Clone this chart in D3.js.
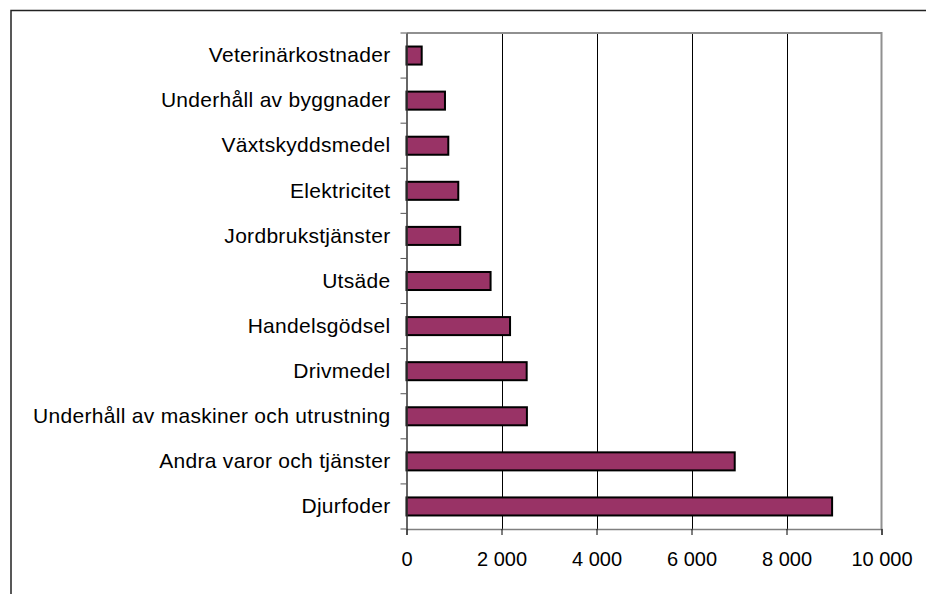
<!DOCTYPE html>
<html>
<head>
<meta charset="utf-8">
<script src="https://cdn.jsdelivr.net/npm/d3@7"></script>
<style>
  body { margin: 0; background: #fff; }
  svg { display: block; font-family: "Liberation Sans", Arial, sans-serif; }
</style>
</head>
<body>
<svg id="chart" width="926" height="594"></svg>
<script>
// categories top to bottom, as shown
const categories = [
  'Veterinärkostnader',
  'Underhåll av byggnader',
  'Växtskyddsmedel',
  'Elektricitet',
  'Jordbrukstjänster',
  'Utsäde',
  'Handelsgödsel',
  'Drivmedel',
  'Underhåll av maskiner och utrustning',
  'Andra varor och tjänster',
  'Djurfoder',
];
const values = [320, 810, 880, 1090, 1130, 1770, 2180, 2530, 2535, 6910, 8960];
const xTicks = [0, 2000, 4000, 6000, 8000, 10000];

const svg = d3.select('#chart');
const plot = { left: 406.5, right: 881.5, top: 33, bottom: 529 };

// outer chart frame (clipped at right/bottom edges)
svg.append('path')
  .attr('d', `M11,594V10.5H926`)
  .attr('fill', 'none')
  .attr('stroke', '#222')
  .attr('stroke-width', 1.5);

const x = d3.scaleLinear().domain([0, 10000]).range([plot.left, plot.right]);
const y = d3.scaleBand().domain(categories).range([plot.top, plot.bottom]).paddingInner(0.6).paddingOuter(0.3);
const yb = d3.scaleBand().domain(categories).range([plot.top, plot.bottom]);

const fmt = (v) => d3.format(',')(v).replace(/,/g, '\u00a0');

// gridlines
svg.append('g')
  .selectAll('line')
  .data(xTicks.slice(1, -1))
  .join('line')
  .attr('x1', (d) => Math.round(x(d)) + 0.5)
  .attr('x2', (d) => Math.round(x(d)) + 0.5)
  .attr('y1', plot.top)
  .attr('y2', plot.bottom)
  .attr('stroke', '#000')
  .attr('stroke-width', 1);

// plot area border top/right (grey)
svg.append('path')
  .attr('d', `M${plot.left},${plot.top}H${plot.right}V${plot.bottom}`)
  .attr('fill', 'none')
  .attr('stroke', '#909090')
  .attr('stroke-width', 2);

// bars
svg.append('g')
  .selectAll('rect')
  .data(categories)
  .join('rect')
  .attr('x', x(0))
  .attr('y', (d) => y(d))
  .attr('width', (d, i) => x(values[i]) - x(0))
  .attr('height', y.bandwidth())
  .attr('fill', '#993366')
  .attr('stroke', '#000')
  .attr('stroke-width', 2);

// x axis
const xAxis = svg.append('g')
  .attr('transform', `translate(0,${plot.bottom})`)
  .call(d3.axisBottom(x).tickValues(xTicks).tickFormat(fmt).tickSizeOuter(0).tickSize(6).tickPadding(17));
xAxis.select('.domain').attr('stroke', '#808080').attr('stroke-width', 1.5);
xAxis.selectAll('.tick line').attr('stroke', '#000');
xAxis.selectAll('text').attr('font-size', 20).attr('fill', '#000');

// y axis
const yAxis = svg.append('g')
  .attr('transform', `translate(${plot.left},0)`)
  .call(d3.axisLeft(yb).tickSize(0).tickPadding(16).tickSizeOuter(0));
yAxis.select('.domain').attr('stroke', '#333').attr('stroke-width', 1.5);
yAxis.selectAll('text')
  .attr('font-size', 21)
  .attr('letter-spacing', 0.3)
  .attr('fill', '#000');

// y ticks at band boundaries
svg.append('g')
  .selectAll('line')
  .data(d3.range(categories.length + 1))
  .join('line')
  .attr('x1', plot.left - 6)
  .attr('x2', plot.left)
  .attr('y1', (i) => plot.top + i * yb.step())
  .attr('y2', (i) => plot.top + i * yb.step())
  .attr('stroke', '#555')
  .attr('stroke-width', 1);
</script>
</body>
</html>
